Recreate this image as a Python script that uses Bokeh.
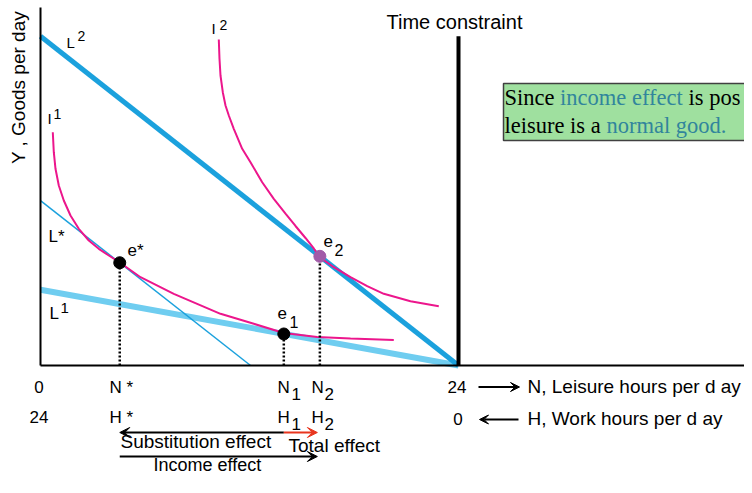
from math import pi
from bokeh.plotting import figure
from bokeh.models import Range1d, Arrow, VeeHead
from bokeh.core.properties import value
from bokeh.embed import file_html
from bokeh.resources import INLINE

# ---------------- data (hours of leisure on x, goods per day on y) ----------------
HOURS = 24
L2_intercept = 18.9          # high-wage budget line L2
L1_intercept = 4.35          # low-wage budget line L1
Lstar_y_intercept = 9.47     # compensated budget line L*
Lstar_x_intercept = 12.06

point_names = ["e*", "e1", "e2"]
point_x = [4.55, 13.97, 16.04]
point_y = [5.90, 1.81, 6.27]
point_colors = ["black", "black", "#A15BA8"]

I1_x = [0.706, 0.764, 0.861, 1.051, 1.338, 1.722, 2.199, 2.773, 3.347, 3.922, 4.553,
        5.742, 7.654, 10.335, 12.247, 13.969, 15.887, 17.799, 20.285]
I1_y = [13.395, 12.247, 11.294, 10.335, 9.474, 8.612, 7.849, 7.177, 6.700, 6.316, 5.914,
        5.070, 4.117, 2.968, 2.394, 1.866, 1.636, 1.550, 1.464]

I2_x = [10.237, 10.277, 10.335, 10.467, 10.622, 10.812, 11.098, 11.581, 12.057, 12.729,
        13.395, 14.067, 14.641, 15.215, 15.692, 16.037, 16.840, 17.799, 18.758, 19.711,
        21.244, 22.869]
I2_y = [18.718, 17.610, 16.651, 15.692, 14.928, 14.354, 13.590, 12.442, 11.673, 10.524,
        9.571, 8.727, 8.010, 7.321, 6.718, 6.218, 5.644, 5.070, 4.553, 4.117,
        3.692, 3.405]

# ---------------- layout helpers (screen pixels -> data units) ----------------
K = 418 / 24.0   # pixels per hour
def hx(px):
    return (px - 40) / K
def vy(py):
    return (365 - py) / K

W, H = 744, 477
p = figure(width=W, height=H, output_backend="svg", toolbar_location=None,
           x_range=Range1d(hx(0), hx(W)), y_range=Range1d(vy(H), vy(0)),
           x_axis_type=None, y_axis_type=None, min_border=0)
p.min_border_left = p.min_border_right = p.min_border_top = p.min_border_bottom = 0
p.grid.visible = False
p.outline_line_color = None
p.background_fill_color = "white"
p.border_fill_color = "white"

SANS = value("Liberation Sans")
SERIF = value("Liberation Serif")

# green note box
p.quad(left=[hx(503)], right=[hx(760)], top=[vy(83)], bottom=[vy(140)],
       fill_color="#9FE09F", line_color="#404040", line_width=1.5)

# budget lines
p.line([0, HOURS], [L1_intercept, 0], line_color="#6FCDF0", line_width=6)
p.line([0, HOURS], [L2_intercept, 0], line_color="#1BA1DD", line_width=5)
p.line([0, Lstar_x_intercept], [Lstar_y_intercept, 0], line_color="#1BA1DD", line_width=1.5)

# indifference curves
p.line(I1_x, I1_y, line_color="#EC168C", line_width=2)
p.line(I2_x, I2_y, line_color="#EC168C", line_width=2)

# dotted drop lines
p.segment(x0=point_x, y0=[0] * 3, x1=point_x, y1=point_y,
          line_color="black", line_width=2.5, line_dash="2 2")

# equilibrium points
p.scatter(point_x, point_y, size=12, fill_color=point_colors, line_color=point_colors)

# time constraint
p.line([HOURS, HOURS], [0, L2_intercept], line_color="black", line_width=4)

# axes
p.line([0, 0], [0, vy(7)], line_color="black", line_width=2)
p.line([0, hx(760)], [0, 0], line_color="black", line_width=2)


def txt(px, py, s, size, align="left", color="black", font=SANS, angle=0, baseline="alphabetic"):
    # py is the wanted baseline; the rendered text sits about 0.37 em lower than its anchor
    if baseline == "alphabetic":
        py = py - 0.37 * size
    p.text(x=[hx(px)], y=[vy(py)], text=[s], text_font=font, text_font_size=value(f"{size}px"),
           text_align=align, text_baseline=baseline, text_color=color, angle=angle)

# titles / labels
txt(386, 29, "Time constraint", 20)
txt(18, 87, "Y , Goods per day", 19, align="center", angle=pi / 2, baseline="middle")

txt(66, 48, "L", 15); txt(77, 41, "2", 14)
txt(211, 34, "I", 15); txt(219, 30, "2", 14)
txt(47, 124, "I", 15); txt(53, 119, "1", 14)
txt(48, 242, "L*", 17)
txt(49, 319, "L", 17); txt(60, 313, "1", 15)
txt(127, 256, "e*", 17)
txt(323, 247, "e", 17); txt(334, 255, "2", 16)
txt(277, 319, "e", 17); txt(289, 327, "1", 16)

# horizontal axis labels
tick_row1 = 393
tick_row2 = 423
txt(38.5, tick_row1, "0", 17, align="center")
txt(38.5, tick_row2, "24", 17, align="center")
txt(109, tick_row1, "N *", 17)
txt(109, tick_row2, "H *", 17)
txt(277, tick_row1, "N", 17); txt(291, tick_row1 + 7, "1", 17)
txt(311, tick_row1, "N", 17); txt(324, tick_row1 + 7, "2", 17)
txt(277, tick_row2, "H", 17); txt(291, tick_row2 + 7, "1", 17)
txt(311, tick_row2, "H", 17); txt(324, tick_row2 + 7, "2", 17)
txt(456.5, tick_row1, "24", 17, align="center")
txt(457.5, tick_row2 + 2, "0", 17, align="center")
txt(527, tick_row1, "N, Leisure hours per d ay", 19)
txt(527, tick_row2 + 2, "H, Work hours per d ay", 19)

# direction arrows beside the axis labels
p.add_layout(Arrow(end=VeeHead(size=9, fill_color="black", line_color="black"),
                   x_start=hx(478), y_start=vy(386.5), x_end=hx(519), y_end=vy(386.5),
                   line_color="black", line_width=2))
p.add_layout(Arrow(end=VeeHead(size=9, fill_color="black", line_color="black"),
                   x_start=hx(518), y_start=vy(419), x_end=hx(479), y_end=vy(419),
                   line_color="black", line_width=2))

# effect arrows (from the equilibrium leisure hours)
y_sub = vy(432)
y_inc = vy(456)
tip2 = point_x[2] - 2.5 / K
p.add_layout(Arrow(end=VeeHead(size=10, fill_color="black", line_color="black"),
                   x_start=point_x[1], y_start=y_sub, x_end=point_x[0], y_end=y_sub,
                   line_color="black", line_width=2))
p.add_layout(Arrow(end=VeeHead(size=10, fill_color="#E8351E", line_color="#E8351E"),
                   x_start=point_x[1], y_start=y_sub, x_end=tip2, y_end=y_sub,
                   line_color="#E8351E", line_width=2))
p.add_layout(Arrow(end=VeeHead(size=10, fill_color="black", line_color="black"),
                   x_start=point_x[0], y_start=y_inc, x_end=tip2, y_end=y_inc,
                   line_color="black", line_width=2))

txt(120, 448, "Substitution effect", 19)
txt(288, 452, "Total effect", 19)
txt(153, 471, "Income effect", 18)

# note text (sized so the visible part of the sentence stays inside the picture)
TEAL = "#31859C"
NOTE = 22.5
txt(504, 105, "Since ", NOTE, font=SERIF)
txt(559.6, 105, "income effect", NOTE, font=SERIF, color=TEAL)
txt(688, 105, "is pos", NOTE, font=SERIF)
txt(504, 133, "leisure is a ", NOTE, font=SERIF)
txt(606, 133, "normal good.", NOTE, font=SERIF, color=TEAL)

open("out.html", "w").write(file_html(p, INLINE))
